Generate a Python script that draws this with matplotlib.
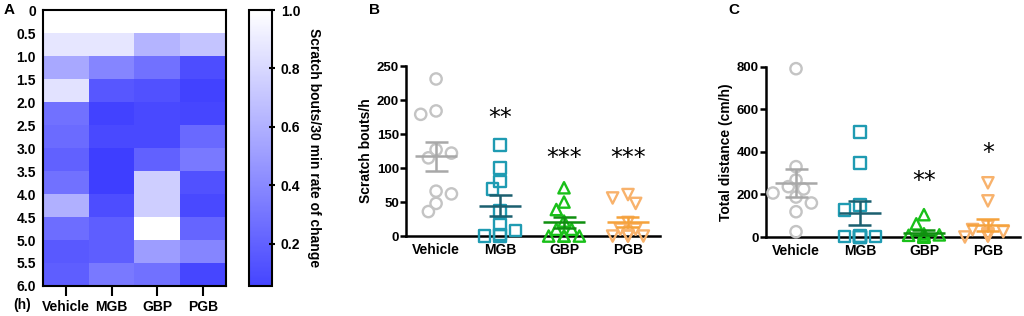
import matplotlib
matplotlib.use("Agg")
import matplotlib.pyplot as plt
import numpy as np
from matplotlib.colors import LinearSegmentedColormap

plt.rcParams['font.family'] = ['Liberation Sans', 'DejaVu Sans']
plt.rcParams['font.weight'] = 'bold'

# ---- data ----
groups = ['Vehicle', 'MGB', 'GBP', 'PGB']
time_edges = [0, 0.5, 1.0, 1.5, 2.0, 2.5, 3.0, 3.5, 4.0, 4.5, 5.0, 5.5, 6.0]
time_labels = ['0', '0.5', '1.0', '1.5', '2.0', '2.5', '3.0', '3.5', '4.0', '4.5', '5.0', '5.5', '6.0']

# rate of change per 30 min, rows = time bins, cols = groups
heat_vehicle = [1.0, 0.87, 0.56, 0.85, 0.28, 0.25, 0.20, 0.28, 0.60, 0.26, 0.16, 0.18]
heat_mgb     = [1.0, 0.87, 0.38, 0.15, 0.04, 0.08, 0.02, 0.02, 0.10, 0.18, 0.18, 0.32]
heat_gbp     = [1.0, 0.62, 0.28, 0.12, 0.08, 0.08, 0.20, 0.75, 0.75, 1.00, 0.50, 0.28]
heat_pgb     = [1.0, 0.70, 0.10, 0.04, 0.06, 0.24, 0.32, 0.12, 0.08, 0.22, 0.38, 0.06]

# scratch bouts/h
scratch_vehicle = [231, 184, 179, 127, 115, 122, 66, 62, 48, 36]
scratch_mgb = [134, 100, 80, 69, 37, 17, 2, 0, 8, 0]
scratch_gbp = [71, 50, 39, 22, 10, 10, 0, 0, 0, 0]
scratch_pgb = [61, 56, 48, 20, 10, 10, 0, 0, 0, 0]
scratch_stars = ['', '**', '***', '***']
scratch_star_y = [0, 173, 115, 115]

# total distance (cm/h)
dist_vehicle = [792, 331, 268, 237, 226, 207, 188, 160, 119, 25]
dist_mgb = [494, 348, 150, 127, 5, 3, 2, 0, 0, 1]
dist_gbp = [105, 62, 15, 10, 8, 5, 3, 2, 0, 0]
dist_pgb = [255, 170, 50, 35, 25, 15, 10, 5, 5, 0]
dist_stars = ['', '', '**', '*']
dist_star_y = [0, 0, 263, 395]

# ---- style ----
marker_col = ['#c4c4c4', '#1f9bb2', '#19c019', '#f8b26c']
mean_col = ['#a8a8a8', '#1b5f6f', '#0f8f0f', '#f5a23c']
markers = ['o', 's', '^', 'v']

fig = plt.figure(figsize=(10.24, 3.16), dpi=100)

# ---- panel A: heatmap ----
axA = fig.add_axes([0.042, 0.095, 0.1785, 0.873])
cmap = LinearSegmentedColormap.from_list('bw', ['#3a3aff', '#ffffff'])
heat = np.array([heat_vehicle, heat_mgb, heat_gbp, heat_pgb]).T
mesh = axA.pcolormesh(np.arange(len(groups) + 1), time_edges, heat,
                      cmap=cmap, vmin=0, vmax=1)
axA.set_ylim(6.0, 0)
axA.set_xlim(0, len(groups))
axA.set_yticks(time_edges)
axA.set_yticklabels(time_labels, fontsize=10, fontweight='bold')
axA.tick_params(axis='y', length=0, pad=5)
axA.set_xticks(np.arange(len(groups)) + 0.5)
axA.set_xticklabels(groups, fontsize=10, fontweight='bold')
axA.tick_params(axis='x', length=7, width=1.5, pad=3)
for s in axA.spines.values():
    s.set_linewidth(1.5)
fig.text(0.022, 0.034, '(h)', fontsize=10, fontweight='bold', ha='center', va='center')
fig.text(0.004, 0.968, 'A', fontsize=11, fontweight='bold', va='center')

cax = fig.add_axes([0.243, 0.095, 0.0225, 0.873])
cb = fig.colorbar(mesh, cax=cax)
cax.set_ylim(0.055, 1.0)
cb.set_ticks([0.2, 0.4, 0.6, 0.8, 1.0])
cb.set_ticklabels(['0.2', '0.4', '0.6', '0.8', '1.0'])
cax.tick_params(direction='inout', length=5, width=1.5, labelsize=10, pad=4)
for t in cax.get_yticklabels():
    t.set_fontweight('bold')
cb.outline.set_linewidth(1.5)
cb.set_label('Scratch bouts/30 min rate of change', rotation=270, fontsize=10,
             fontweight='bold', labelpad=15)


def swarm(vals, ppu, step=0.12, ppx=64, d=10):
    # simple beeswarm: ppu/ppx = pixels per data unit in y / per category in x
    placed = []
    offs = np.zeros(len(vals))
    for i in np.argsort(vals, kind='stable')[::-1]:
        free = []
        for k in range(-3, 4):
            x = k * step
            if all(np.hypot((x - px) * ppx, (vals[i] - pv) * ppu) >= d for px, pv in placed):
                free.append(x)
        if not free:
            free = [0.0]
        # nearest to centre, then the side that has fewer points so far
        left = sum(1 for px, _ in placed if px < 0)
        right = sum(1 for px, _ in placed if px > 0)
        side = -1 if left <= right else 1
        x = min(free, key=lambda v: (round(abs(v), 6), -np.sign(v) * side))
        offs[i] = x
        placed.append((x, vals[i]))
    return offs


def dot_panel(ax, data, ymax, ystep, ylabel, stars, star_y, letter):
    ppu = (ax.get_position().height * 316) / ymax
    for i, vals in enumerate(data):
        vals = np.array(vals, dtype=float)
        xo = swarm(vals, ppu)
        ax.scatter(i + xo, vals, s=66, marker=markers[i], facecolors='none',
                   edgecolors=marker_col[i], linewidths=1.7, clip_on=False, zorder=3)
        m = vals.mean()
        sem = vals.std(ddof=1) / np.sqrt(len(vals))
        ax.hlines(m, i - 0.33, i + 0.33, color=mean_col[i], lw=1.8, zorder=4)
        ax.hlines([m - sem, m + sem], i - 0.18, i + 0.18, color=mean_col[i], lw=1.8, zorder=4)
        ax.vlines(i, m - sem, m + sem, color=mean_col[i], lw=1.8, zorder=4)
        if stars[i]:
            ax.text(i, star_y[i], stars[i], ha='center', va='center', fontsize=17,
                    fontweight='normal', family='DejaVu Sans')
    ax.set_xlim(-0.47, 3.5)
    ax.set_ylim(0, ymax)
    ax.set_yticks(np.arange(0, ymax + 1, ystep))
    ax.set_xticks(range(len(groups)))
    ax.set_xticklabels(groups, fontsize=10, fontweight='bold')
    ax.tick_params(axis='x', length=0, pad=5)
    ax.tick_params(axis='y', length=4, width=1.8, labelsize=9.5, pad=1)
    for t in ax.get_yticklabels():
        t.set_fontweight('bold')
    ax.spines['top'].set_visible(False)
    ax.spines['right'].set_visible(False)
    ax.spines['left'].set_linewidth(1.8)
    ax.spines['bottom'].set_linewidth(1.8)
    ax.set_ylabel(ylabel, fontsize=10, fontweight='bold', labelpad=3)
    pos = ax.get_position()
    fig.text(pos.x0 - 0.0365, 0.968, letter, fontsize=11, fontweight='bold', va='center')


axB = fig.add_axes([0.3965, 0.253, 0.248, 0.538])
dot_panel(axB, [scratch_vehicle, scratch_mgb, scratch_gbp, scratch_pgb], 250, 50,
          'Scratch bouts/h', scratch_stars, scratch_star_y, 'B')

axC = fig.add_axes([0.748, 0.25, 0.248, 0.538])
dot_panel(axC, [dist_vehicle, dist_mgb, dist_gbp, dist_pgb], 800, 200,
          'Total distance (cm/h)', dist_stars, dist_star_y, 'C')

fig.savefig('out.png', dpi=100)
